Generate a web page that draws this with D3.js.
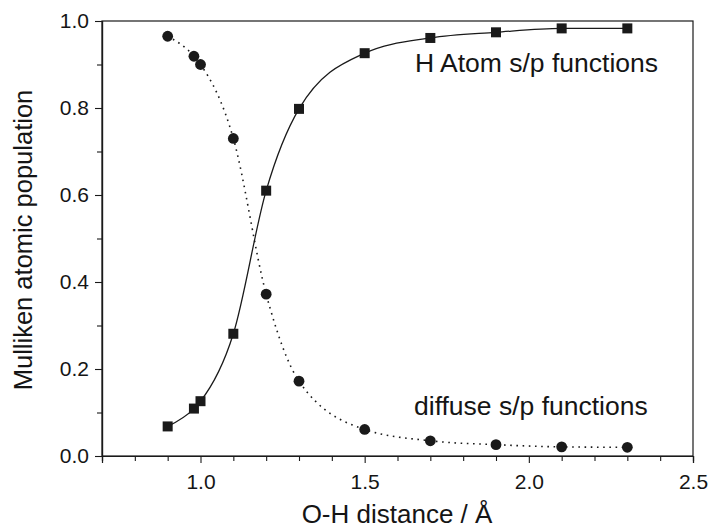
<!DOCTYPE html>
<html>
<head>
<meta charset="utf-8">
<script src="https://cdn.jsdelivr.net/npm/d3@7"></script>
<style>
  html, body { margin: 0; padding: 0; background: #fff; }
  svg { display: block; font-family: "Liberation Sans", Arial, Helvetica, sans-serif; }
</style>
</head>
<body>
<svg id="chart" width="711" height="530"></svg>
<script>
// O-H distance (Å) at which populations were computed
const distances = [0.9, 0.98, 1.0, 1.1, 1.2, 1.3, 1.5, 1.7, 1.9, 2.1, 2.3];
// Mulliken populations on the H atom s/p functions
const hAtomPop = [0.068, 0.109, 0.126, 0.281, 0.610, 0.798, 0.926, 0.961, 0.974, 0.983, 0.983];
// Mulliken populations on the diffuse s/p functions
const diffusePop = [0.965, 0.919, 0.900, 0.730, 0.372, 0.172, 0.061, 0.035, 0.026, 0.021, 0.020];

const xMajorTicks = [1.0, 1.5, 2.0, 2.5];
const xMinorTicks = [0.7, 0.8, 0.9, 1.1, 1.2, 1.3, 1.4, 1.6, 1.7, 1.8, 1.9, 2.1, 2.2, 2.3, 2.4];
const yMajorTicks = [0.0, 0.2, 0.4, 0.6, 0.8, 1.0];
const yMinorTicks = [0.1, 0.3, 0.5, 0.7, 0.9];

const ink = "#1a1a1a";
const textInk = "#151515";
const svg = d3.select("#chart");

const x = d3.scaleLinear().domain([0.7, 2.5]).range([102, 693]);
const y = d3.scaleLinear().domain([0, 1]).range([456, 21]);

// frame
svg.append("rect")
  .attr("x", x(0.7)).attr("y", y(1))
  .attr("width", x(2.5) - x(0.7)).attr("height", y(0) - y(1))
  .attr("fill", "none").attr("stroke", ink).attr("stroke-width", 1.2);

// axes
const fmt = d3.format(".1f");
const xAxis = svg.append("g").attr("transform", `translate(0,${y(0)})`)
  .call(d3.axisBottom(x).tickValues(xMajorTicks).tickFormat(fmt).tickSize(7).tickPadding(7));
const xMinor = svg.append("g").attr("transform", `translate(0,${y(0)})`)
  .call(d3.axisBottom(x).tickValues(xMinorTicks).tickFormat("").tickSize(5));
const yAxis = svg.append("g").attr("transform", `translate(${x(0.7)},0)`)
  .call(d3.axisLeft(y).tickValues(yMajorTicks).tickFormat(fmt).tickSize(7).tickPadding(6));
const yMinor = svg.append("g").attr("transform", `translate(${x(0.7)},0)`)
  .call(d3.axisLeft(y).tickValues(yMinorTicks).tickFormat("").tickSize(5));

[xAxis, xMinor, yAxis, yMinor].forEach(g => {
  g.select(".domain").attr("stroke", ink).attr("stroke-width", 1.2);
  g.selectAll(".tick line").attr("stroke", ink).attr("stroke-width", 1.1);
  g.selectAll(".tick text").attr("fill", textInk).style("font-size", "21px")
    .style("font-family", "'Liberation Sans', Arial, sans-serif");
});
xAxis.selectAll(".tick text").attr("dy", "0.9em");

// axis titles
svg.append("text")
  .attr("x", (x(0.7) + x(2.5)) / 2 - 0.5).attr("y", 523)
  .attr("text-anchor", "middle").attr("fill", textInk)
  .style("font-size", "26px").text("O-H distance / Å");

svg.append("text")
  .attr("transform", "translate(32,240) rotate(-90)")
  .attr("text-anchor", "middle").attr("fill", textInk)
  .style("font-size", "25.5px").text("Mulliken atomic population");

// curves
const hPts = distances.map((d, i) => [d, hAtomPop[i]]);
const dPts = distances.map((d, i) => [d, diffusePop[i]]);
const line = d3.line().x(d => x(d[0])).y(d => y(d[1])).curve(d3.curveMonotoneX);

svg.append("path").attr("d", line(hPts))
  .attr("fill", "none").attr("stroke", ink).attr("stroke-width", 1.3);

svg.append("path").attr("d", line(dPts))
  .attr("fill", "none").attr("stroke", ink).attr("stroke-width", 1.6)
  .attr("stroke-dasharray", "1.6,4.6");

// markers
const sq = 10;
svg.append("g").selectAll("rect").data(hPts).join("rect")
  .attr("x", d => x(d[0]) - sq / 2).attr("y", d => y(d[1]) - sq / 2)
  .attr("width", sq).attr("height", sq).attr("fill", ink);

svg.append("g").selectAll("circle").data(dPts).join("circle")
  .attr("cx", d => x(d[0])).attr("cy", d => y(d[1])).attr("r", 5.4).attr("fill", ink);

// series labels
svg.append("text").attr("x", 415).attr("y", 72).attr("fill", textInk)
  .style("font-size", "26.5px").text("H Atom s/p functions");
svg.append("text").attr("x", 414).attr("y", 415).attr("fill", textInk)
  .style("font-size", "26.5px").text("diffuse s/p functions");
</script>
</body>
</html>
